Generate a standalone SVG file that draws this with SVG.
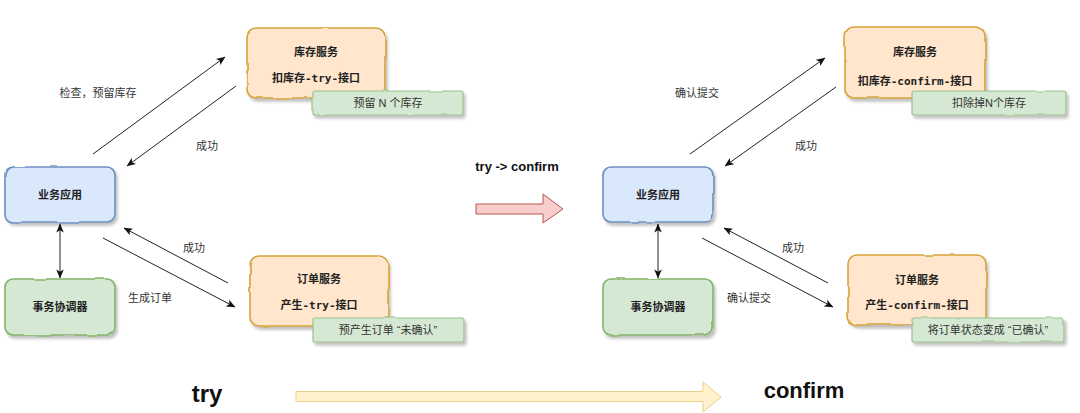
<svg xmlns="http://www.w3.org/2000/svg" width="1080" height="413" viewBox="0 0 1080 413">
<defs>
<filter id="sk" x="-10%" y="-15%" width="125%" height="140%">
<feTurbulence type="fractalNoise" baseFrequency="0.035" numOctaves="2" seed="4" result="n"/>
<feDisplacementMap in="SourceGraphic" in2="n" scale="3" xChannelSelector="R" yChannelSelector="G" result="d"/>
<feGaussianBlur in="SourceAlpha" stdDeviation="1.5" result="b"/>
<feOffset in="b" dx="2" dy="3" result="o"/>
<feComponentTransfer in="o" result="s"><feFuncA type="linear" slope="0.25"/></feComponentTransfer>
<feMerge><feMergeNode in="s"/><feMergeNode in="d"/></feMerge>
</filter>
<marker id="ah" viewBox="0 0 10 10" refX="9.5" refY="5" markerWidth="9" markerHeight="9" markerUnits="userSpaceOnUse" orient="auto-start-reverse">
<path d="M0,0.8 L10,5 L0,9.2 L2.5,5 Z" fill="#111"/>
</marker>
<style>
.orange{fill:#ffe6cc;stroke:#d6a23a;stroke-width:1.6}
.blue{fill:#dae8fc;stroke:#6c8ebf;stroke-width:1.6}
.green{fill:#d5e8d4;stroke:#82b366;stroke-width:1.6}
.note{fill:#d5e8d4;stroke:#9cc08a;stroke-width:1.2}
.t{font-family:"Liberation Sans","Noto Sans CJK SC",sans-serif;font-size:11px;font-weight:bold;fill:#222;text-anchor:middle}
.m{font-family:"DejaVu Sans Mono","Noto Sans CJK SC",monospace;font-size:11px;font-weight:bold;fill:#222;text-anchor:middle}
.n{font-family:"Liberation Sans","Noto Sans CJK SC",sans-serif;font-size:11px;fill:#333;text-anchor:middle}
.lbl{font-family:"Liberation Sans","Noto Sans CJK SC",sans-serif;font-size:11px;fill:#333;text-anchor:middle}
.big{font-family:"Liberation Sans",Arial,sans-serif;font-weight:bold;fill:#111;text-anchor:middle}
.c{fill:none;stroke:#222;stroke-width:1}
</style>
</defs>
<rect width="1080" height="413" fill="#ffffff"/>

<g id="connectors">
<line class="c" x1="93" y1="154" x2="225" y2="57" marker-end="url(#ah)"/>
<line class="c" x1="236" y1="86" x2="127" y2="166" marker-end="url(#ah)"/>
<line class="c" x1="228" y1="283" x2="124" y2="228" marker-end="url(#ah)"/>
<line class="c" x1="103" y1="238" x2="235" y2="307" marker-end="url(#ah)"/>
<line class="c" x1="60" y1="224" x2="60" y2="278" marker-start="url(#ah)" marker-end="url(#ah)"/>
<line class="c" x1="690" y1="154" x2="825" y2="58" marker-end="url(#ah)"/>
<line class="c" x1="836" y1="87" x2="725" y2="166" marker-end="url(#ah)"/>
<line class="c" x1="828" y1="283" x2="724" y2="228" marker-end="url(#ah)"/>
<line class="c" x1="702" y1="238" x2="833" y2="307" marker-end="url(#ah)"/>
<line class="c" x1="658" y1="224" x2="658" y2="278" marker-start="url(#ah)" marker-end="url(#ah)"/>
<text class="lbl" x="98" y="97">检查，预留库存</text>
<text class="lbl" x="207" y="150">成功</text>
<text class="lbl" x="194" y="252">成功</text>
<text class="lbl" x="150" y="302">生成订单</text>
<text class="lbl" x="697" y="97">确认提交</text>
<text class="lbl" x="806" y="150">成功</text>
<text class="lbl" x="793" y="252">成功</text>
<text class="lbl" x="749" y="302">确认提交</text>
</g>

<g id="try-app">
<rect class="blue" x="5" y="167" width="110" height="55" rx="8" filter="url(#sk)"/>
<text class="t" x="60" y="199">业务应用</text>
</g>
<g id="try-coordinator">
<rect class="green" x="5" y="279" width="110" height="56" rx="8" filter="url(#sk)"/>
<text class="t" x="60" y="311">事务协调器</text>
</g>
<g id="try-stock">
<rect class="orange" x="247" y="28" width="138" height="70" rx="9" filter="url(#sk)"/>
<text class="t" x="316" y="56">库存服务</text>
<text class="m" x="316" y="82">扣库存-try-接口</text>
</g>
<g id="try-stock-note">
<rect class="note" x="313" y="91" width="150" height="24" rx="2" filter="url(#sk)"/>
<text class="n" x="388" y="107">预留 N 个库存</text>
</g>
<g id="try-order">
<rect class="orange" x="250" y="256" width="138" height="70" rx="9" filter="url(#sk)"/>
<text class="t" x="319" y="283">订单服务</text>
<text class="m" x="319" y="309">产生-try-接口</text>
</g>
<g id="try-order-note">
<rect class="note" x="313" y="318" width="151" height="24" rx="2" filter="url(#sk)"/>
<text class="n" x="388" y="334">预产生订单 “未确认”</text>
</g>

<g id="confirm-app">
<rect class="blue" x="603" y="167" width="110" height="55" rx="8" filter="url(#sk)"/>
<text class="t" x="658" y="199">业务应用</text>
</g>
<g id="confirm-coordinator">
<rect class="green" x="603" y="279" width="110" height="56" rx="8" filter="url(#sk)"/>
<text class="t" x="658" y="311">事务协调器</text>
</g>
<g id="confirm-stock">
<rect class="orange" x="845" y="27" width="140" height="71" rx="9" filter="url(#sk)"/>
<text class="t" x="915" y="56">库存服务</text>
<text class="m" x="915" y="85">扣库存-confirm-接口</text>
</g>
<g id="confirm-stock-note">
<rect class="note" x="912" y="91" width="154" height="24" rx="2" filter="url(#sk)"/>
<text class="n" x="989" y="107">扣除掉N个库存</text>
</g>
<g id="confirm-order">
<rect class="orange" x="848" y="255" width="138" height="70" rx="9" filter="url(#sk)"/>
<text class="t" x="917" y="284">订单服务</text>
<text class="m" x="917" y="309">产生-confirm-接口</text>
</g>
<g id="confirm-order-note">
<rect class="note" x="912" y="318" width="152" height="24" rx="2" filter="url(#sk)"/>
<text class="n" x="988" y="334">将订单状态变成 “已确认”</text>
</g>

<g id="try-to-confirm">
<text class="big" x="517" y="171" font-size="13">try -&gt; confirm</text>
<path d="M476,204 L543,204 L543,194 L563,209 L543,223 L543,214 L476,214 Z" fill="#f8cecc" stroke="#b85450" stroke-width="1"/>
</g>
<g id="phase-arrow">
<path d="M296,391.5 L703,391.5 L703,382 L721,397 L703,412 L703,401.5 L296,401.5 Z" fill="#fff2cc" stroke="#e8cf8a" stroke-width="1"/>
</g>
<g id="label-try">
<text class="big" x="207" y="402" font-size="24">try</text>
</g>
<g id="label-confirm">
<text class="big" x="804" y="398" font-size="22">confirm</text>
</g>
</svg>
